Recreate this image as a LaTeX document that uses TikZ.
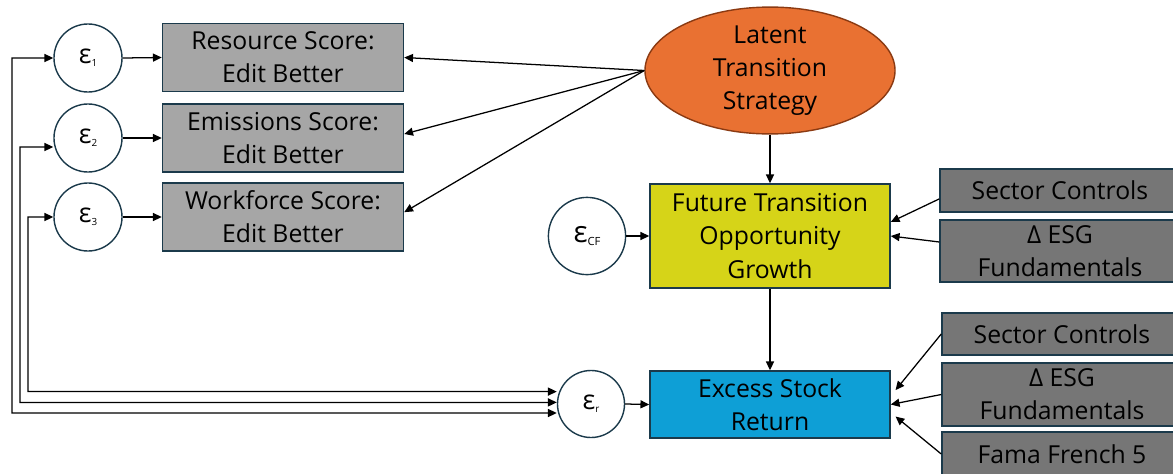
\documentclass[tikz,border=0pt]{standalone}
\usepackage{fontspec}
\setmainfont{Open Sans}
\usetikzlibrary{shapes,arrows.meta,positioning,calc}
\definecolor{edgeblue}{HTML}{1B3A4B}
\definecolor{lightbox}{HTML}{A6A6A6}
\definecolor{darkbox}{HTML}{767676}
\definecolor{latentorange}{HTML}{E97132}
\definecolor{latentrim}{HTML}{8B3A12}
\definecolor{cfyellow}{HTML}{D6D418}
\definecolor{retblue}{HTML}{0E9FD6}
\newcommand{\errterm}[3]{{\fontsize{#2}{#2}\selectfont ε}\raisebox{-0.4ex}{\fontsize{#3}{#3}\selectfont #1}}

\begin{document}
\begin{tikzpicture}[x=0.025cm, y=-0.025cm,
    txt/.style={font=\fontsize{17.6}{23.5}\selectfont, align=center, inner sep=0pt},
    score/.style={txt, draw=edgeblue, line width=1pt, fill=lightbox, minimum width=6.025cm, minimum height=1.7cm},
    control/.style={txt, draw=edgeblue, line width=1pt, fill=darkbox, minimum width=6cm},
    errnode/.style={circle, draw=edgeblue, line width=1pt, inner sep=0pt},
    arr/.style={-{Triangle[length=2.2mm,width=2mm]}, line width=0.9pt},
    corr/.style={{Triangle[length=2.2mm,width=2mm]}-{Triangle[length=2.2mm,width=2mm]}, line width=0.9pt}]
        \useasboundingbox (0,0) rectangle (1173,474);

        % Indicators of the latent strategy
        \node[score] (res) at (283,57.5) {Resource Score:\\Edit Better};
        \node[score] (emis) at (283,138) {Emissions Score:\\Edit Better};
        \node[score] (work) at (283,217) {Workforce Score:\\Edit Better};
        \node[errnode, minimum size=1.7cm] (e1) at (88,58) {\errterm{1}{19}{7}};
        \node[errnode, minimum size=1.7cm] (e2) at (88,138) {\errterm{2}{19}{7}};
        \node[errnode, minimum size=1.7cm] (e3) at (88,217) {\errterm{3}{19}{7}};

        % Latent and outcomes
        \node[txt, ellipse, draw=latentrim, line width=1pt, fill=latentorange, minimum width=6.25cm, minimum height=3.125cm] (latent) at (770,70.5) {Latent\\Transition\\Strategy};
        \node[txt, draw=edgeblue, line width=1pt, fill=cfyellow, minimum width=6cm, minimum height=2.6cm] (fut) at (770,236) {Future Transition\\Opportunity\\Growth};
        \node[txt, draw=edgeblue, line width=1pt, fill=retblue, minimum width=6cm, minimum height=1.675cm] (exc) at (770,404.5) {Excess Stock\\Return};
        \node[errnode, minimum size=1.93cm] (ecf) at (587,236) {\errterm{CF}{21}{8}};
        \node[errnode, minimum size=1.675cm] (er) at (591,404) {\errterm{r}{19}{7}};

        % Controls
        \node[control, minimum height=1.075cm] (sec1) at (1060,190.5) {Sector Controls};
        \node[control, minimum height=1.55cm] (esg1) at (1060,251) {Δ ESG\\Fundamentals};
        \node[control, minimum height=1.05cm] (sec2) at (1062,334) {Sector Controls};
        \node[control, minimum height=1.575cm] (esg2) at (1062,394.5) {Δ ESG\\Fundamentals};
        \node[control, minimum height=1.1cm] (fama) at (1062,454) {Fama French 5};

        % Paths
        \draw[arr] (e1.east) -- (res.west);
        \draw[arr] (e2.east) -- (emis.west);
        \draw[arr] (e3.east) -- (work.west);
        \draw[arr] (latent.west) -- (res.east);
        \draw[arr] (latent.west) -- ([yshift=0.1cm]emis.east);
        \draw[arr] (latent.west) -- ([yshift=0.12cm]work.east);
        \draw[arr] (latent.south) -- (fut.north);
        \draw[arr] (fut.south) -- (exc.north);
        \draw[arr] (ecf.east) -- (fut.west);
        \draw[arr] (er.east) -- (exc.west);
        \draw[arr] ([yshift=-0.21cm]sec1.west) -- ([yshift=0.35cm]fut.east);
        \draw[arr] ([yshift=0.225cm]esg1.west) -- (fut.east);
        \draw[arr] (sec2.west) -- ([xshift=0.12cm,yshift=0.36cm]exc.east);
        \draw[arr] (esg2.west) -- (exc.east);
        \draw[arr] (fama.west) -- ([xshift=0.12cm,yshift=-0.3cm]exc.east);

        % Correlated errors
        \coordinate (lane1) at (12,413);
        \coordinate (lane2) at (20,402.5);
        \coordinate (lane3) at (28,391.5);
        \draw[corr] (e1.west) -| (lane1) -- ([yshift=-0.225cm]er.west);
        \draw[corr] ([yshift=-0.225cm]e2.west) -| (lane2) -- ([yshift=0.04cm]er.west);
        \draw[corr] (e3.west) -| (lane3) -- ([yshift=0.31cm]er.west);
    \end{tikzpicture}
\end{document}
